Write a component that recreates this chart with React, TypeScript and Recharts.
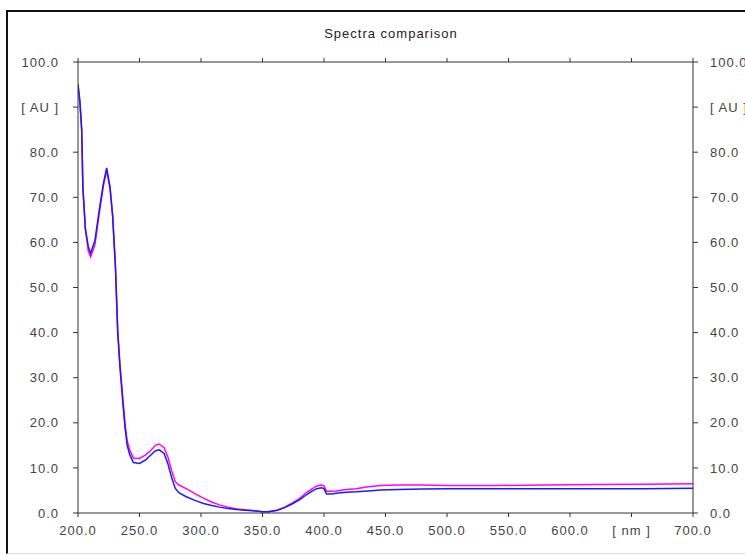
import React from 'react';
import { LineChart, Line, XAxis, YAxis } from 'recharts';

const wavelengths = [200, 201.6, 203, 204, 206, 208.4, 210.3, 213.8, 217.3, 220.6, 223.3, 226, 228.2, 230.5, 232.3, 234.1, 236.3, 238.2, 240, 242, 245, 250, 255, 259, 263, 266, 270, 273, 276, 279, 282, 288, 295, 302, 308, 315, 322, 329, 336, 343, 350, 355, 362, 368, 374, 380, 386, 390, 394, 398, 400, 402, 406, 410, 418, 426, 436, 446, 460, 480, 500, 540, 580, 620, 660, 700];

const blueSpectrum = [95, 91, 85, 72, 63, 59, 57.6, 60.5, 67.2, 73, 76.5, 72.4, 65.7, 54, 40, 32.4, 25, 19, 15, 13, 11.2, 11, 11.8, 12.8, 13.8, 14, 13.2, 11, 8, 5.5, 4.5, 3.6, 2.8, 2.1, 1.7, 1.3, 1.0, 0.8, 0.6, 0.5, 0.3, 0.3, 0.6, 1.2, 2.0, 2.9, 4.1, 4.8, 5.4, 5.6, 5.4, 4.2, 4.2, 4.4, 4.6, 4.7, 4.9, 5.1, 5.2, 5.3, 5.4, 5.4, 5.4, 5.4, 5.4, 5.5];

const magentaSpectrum = [95, 91, 85, 72, 63, 58, 56.8, 59.5, 66.5, 72.5, 76, 72, 66, 54.5, 40.5, 33, 26, 20, 16, 14, 12.2, 12.1, 12.9, 13.8, 15, 15.3, 14.5, 12.5, 9.5, 7, 6.2, 5.4, 4.3, 3.3, 2.5, 1.8, 1.3, 0.9, 0.7, 0.5, 0.3, 0.3, 0.6, 1.3, 2.2, 3.2, 4.6, 5.3, 6.0, 6.2, 6.0, 4.8, 4.8, 4.9, 5.2, 5.4, 5.8, 6.1, 6.2, 6.2, 6.1, 6.1, 6.2, 6.3, 6.4, 6.5];

const xTicks = [200, 250, 300, 350, 400, 450, 500, 550, 600, 650, 700];
const yTicks = [0, 10, 20, 30, 40, 50, 60, 70, 80, 90, 100];
const xUnitLabel = '[ nm ]';
const yUnitLabel = '[ AU ]';
const title = 'Spectra comparison';

const data = wavelengths.map((nm, i) => ({ nm, blue: blueSpectrum[i], magenta: magentaSpectrum[i] }));

const fmtX = (v: number) => (v === 650 ? xUnitLabel : v.toFixed(1));
const fmtY = (v: number) => (v === 90 ? yUnitLabel : v.toFixed(1));

const tickStyle = { fontSize: 13, fill: '#444', fontFamily: '"Liberation Sans", Arial, sans-serif', letterSpacing: 1 };
const axisStroke = '#333';

export default function App() {
  return (
    <div style={{ position: 'fixed', left: 0, top: 0, width: 745, height: 558, background: '#fff', overflow: 'hidden' }}>
      <div style={{ position: 'absolute', left: 6, top: 10, width: 800, height: 544, borderTop: '2px solid #111', borderLeft: '2px solid #111', borderBottom: '1px solid #ddd', boxSizing: 'border-box' }} />
      <div style={{ position: 'absolute', left: 0, top: 0 }}>
        <LineChart width={745} height={558} data={data} margin={{ top: 42, right: 2, bottom: 15, left: 18 }}>
          <text x={391} y={38} textAnchor="middle" style={{ fontSize: 13, fill: '#222', fontFamily: '"Liberation Sans", Arial, sans-serif', letterSpacing: 1 }}>{title}</text>
          <XAxis dataKey="nm" type="number" domain={[200, 700]} ticks={xTicks} tickFormatter={fmtX} stroke={axisStroke} tickSize={4} tickMargin={9} height={30} tick={tickStyle} interval={0} allowDataOverflow />
          <XAxis xAxisId="top" orientation="top" dataKey="nm" type="number" domain={[200, 700]} ticks={xTicks} tickFormatter={() => ''} stroke={axisStroke} tickSize={4} height={20} interval={0} />
          <YAxis yAxisId="left" domain={[0, 100]} ticks={yTicks} tickFormatter={fmtY} stroke={axisStroke} tickSize={5} tickMargin={14} width={60} tick={tickStyle} interval={0} allowDataOverflow />
          <YAxis yAxisId="right" orientation="right" domain={[0, 100]} ticks={yTicks} tickFormatter={fmtY} stroke={axisStroke} tickSize={5} tickMargin={12} width={50} tick={{ ...tickStyle, textAnchor: 'start' }} interval={0} allowDataOverflow />
          <Line yAxisId="left" dataKey="magenta" stroke="#ff00ff" strokeWidth={1.5} dot={false} isAnimationActive={false} type="linear" />
          <Line yAxisId="left" dataKey="blue" stroke="#1a1aff" strokeWidth={1.5} dot={false} isAnimationActive={false} type="linear" />
        </LineChart>
      </div>
    </div>
  );
}
